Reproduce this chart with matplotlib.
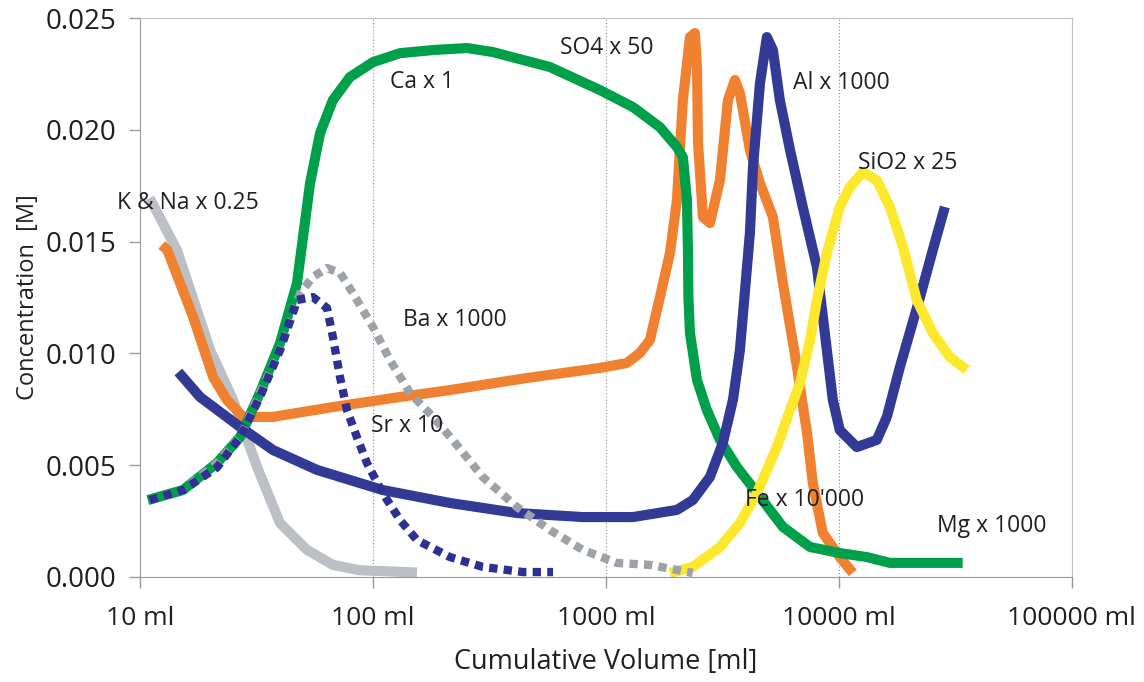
import matplotlib.pyplot as plt
import numpy as np

# volumen acumulado [ml] y concentracion [M]
kna_v = [11.0, 14.4, 20.0, 25.1, 31.8, 39.9, 52.1, 67.3, 87.9, 154.5]
kna_c = [0.01695, 0.01462, 0.01015, 0.00792, 0.00492, 0.00241, 0.00121, 0.00054, 0.0003, 0.0002]

fe_v = [12.4, 13.1, 16.9, 20.6, 23.6, 27.7, 37.2, 67.3, 130.6, 214, 458, 942, 1230, 1399, 1545,
        1706, 1883, 2018, 2080, 2140, 2295, 2410, 2460, 2485, 2609, 2795, 3086, 3340, 3580,
        3760, 4150, 4585, 5210, 5750, 6610, 7300, 7730, 8530, 10090, 11480]
fe_c = [0.01485, 0.01462, 0.01163, 0.00894, 0.00792, 0.00716, 0.00716, 0.0076, 0.00805, 0.00836,
        0.0089, 0.00935, 0.00957, 0.01002, 0.0106, 0.01252, 0.01449, 0.01686, 0.01923, 0.02133,
        0.02415, 0.02433, 0.02281, 0.01941, 0.0161, 0.01583, 0.01775, 0.02133, 0.02223, 0.02164,
        0.0191, 0.01762, 0.0161, 0.01315, 0.00939, 0.00644, 0.0042, 0.00197, 0.00089, 0.00018]

ca_v = [10.8, 15.3, 21.4, 26.9, 32.7, 39.9, 47.2, 53.7, 59.3, 67.3, 79.6, 100, 130.6, 181, 253,
        327, 575, 942, 1306, 1706, 2018, 2140, 2227, 2250, 2260, 2295, 2460, 2712, 3086, 3650,
        4450, 5750, 7520, 10090, 13180, 16550, 21600, 34000]
ca_c = [0.00344, 0.00389, 0.0051, 0.00626, 0.00823, 0.01046, 0.01315, 0.01762, 0.01986, 0.02133,
        0.02236, 0.02303, 0.02343, 0.02357, 0.02366, 0.02348, 0.02281, 0.02178, 0.02102, 0.02012,
        0.01923, 0.01878, 0.01686, 0.01462, 0.01252, 0.01091, 0.00881, 0.00747, 0.00613, 0.00492,
        0.00376, 0.00224, 0.00134, 0.00107, 0.00089, 0.00063, 0.00063, 0.00063]

al_v = [14.6, 18.1, 26.9, 37.2, 57.5, 110, 214, 415, 796, 1306, 2018, 2360, 2795, 3175, 3510,
        3760, 4150, 4280, 4585, 4910, 5210, 5580, 6170, 7000, 8050, 8880, 9420, 10090, 11940,
        14550, 16070, 18280, 22300, 25300, 28500]
al_c = [0.00917, 0.00805, 0.00671, 0.00568, 0.00479, 0.00389, 0.00331, 0.00286, 0.00268, 0.00268,
        0.003, 0.00344, 0.00447, 0.00599, 0.00792, 0.01015, 0.01538, 0.01834, 0.02209, 0.02415,
        0.02357, 0.02133, 0.0191, 0.01655, 0.01386, 0.01015, 0.00792, 0.00657, 0.00581, 0.00613,
        0.00716, 0.00939, 0.01252, 0.01462, 0.01655]

si_v = [1883, 2360, 3086, 3760, 4450, 5420, 6170, 6810, 7520, 8050, 8880, 10090, 11140, 12680,
        14550, 16550, 18840, 21600, 25300, 29900, 35400]
si_c = [0.00018, 0.00045, 0.00134, 0.00241, 0.00376, 0.00581, 0.00747, 0.00868, 0.0106, 0.01239,
        0.01449, 0.01655, 0.01744, 0.01811, 0.01775, 0.01655, 0.01476, 0.01239, 0.01091, 0.00984,
        0.00926]

ba_v = [11.0, 15.3, 21.4, 26.9, 32.7, 39.9, 48.7, 55.2, 63.5, 72.2, 82.0, 100, 118.3, 144.2, 181,
        220, 296, 415, 575, 796, 1114, 1545, 2360]
ba_c = [0.00344, 0.00389, 0.0051, 0.00626, 0.00823, 0.01015, 0.0127, 0.01342, 0.01382, 0.0136,
        0.0127, 0.01118, 0.0097, 0.00823, 0.00716, 0.00613, 0.00447, 0.00313, 0.0021, 0.00121,
        0.00063, 0.00054, 0.00018]

sr_v = [11.0, 15.3, 21.4, 26.9, 32.7, 39.9, 47.2, 55.2, 63.5, 67.3, 72.2, 77.3, 85.3, 94.2, 110,
        130.6, 154.5, 214, 296, 441, 593]
sr_c = [0.00344, 0.00389, 0.0049, 0.00626, 0.00805, 0.01015, 0.01239, 0.01252, 0.01203, 0.01073,
        0.00894, 0.00747, 0.00626, 0.0051, 0.00376, 0.00255, 0.00165, 0.00089, 0.00045, 0.00022,
        0.00022]

# etiquetas (texto, volumen, concentracion)
etiquetas = [('Ca x 1', 118, 0.02213), ('SO4 x 50', 635, 0.02366), ('Al x 1000', 6350, 0.02209),
             ('SiO2 x 25', 12080, 0.01851), ('K & Na x 0.25', 7.96, 0.01673),
             ('Ba x 1000', 134.5, 0.01149), ('Sr x 10', 98, 0.00675),
             ("Fe x 10'000", 3955, 0.00344), ('Mg x 1000', 26360, 0.00228)]

plt.rcParams['font.family'] = ['Open Sans', 'DejaVu Sans']

fig = plt.figure(figsize=(11.44, 6.82), dpi=100)
ax = fig.add_axes([0.1224, 0.154, 0.8145, 0.8195])

lw = 7.3
estilo = dict(solid_capstyle='butt', solid_joinstyle='round')
ax.plot(kna_v, kna_c, color='#BCC0C5', lw=lw, **estilo)
ax.plot(fe_v, fe_c, color='#F08131', lw=lw, **estilo)
ax.plot(ca_v, ca_c, color='#00A04B', lw=lw, **estilo)
ax.plot(al_v, al_c, color='#333A96', lw=lw, **estilo)
ax.plot(si_v, si_c, color='#FCE82C', lw=lw, **estilo)
ax.plot(ba_v, ba_c, color='#9DA2A9', lw=6, linestyle=(0, (1, 0.75)), dash_capstyle='butt')
ax.plot(sr_v, sr_c, color='#2E3192', lw=6, linestyle=(0, (1, 0.75)), dash_capstyle='butt')

for txt, xv, yv in etiquetas:
    ax.text(xv, yv, txt, fontsize=16.5, color='#231F20', ha='left', va='center', clip_on=False)

ax.set_xscale('log')
ax.set_xlim(10, 100000)
ax.set_ylim(0, 0.025)
ax.set_xticks([10, 100, 1000, 10000, 100000])
ax.set_xticklabels(['10 ml', '100 ml', '1000 ml', '10000 ml', '100000 ml'])
ax.xaxis.set_minor_locator(plt.NullLocator())
ax.set_yticks(np.arange(0, 0.0251, 0.005))
ax.set_yticklabels(['%.3f' % v for v in np.arange(0, 0.0251, 0.005)])
ax.tick_params(axis='both', length=8, width=1, color='#999999', labelcolor='#231F20')
ax.tick_params(axis='x', pad=13, labelsize=19)
ax.tick_params(axis='y', pad=9, labelsize=20)

for v in [100, 1000, 10000]:
    ax.axvline(v, color='#888888', lw=0.8, linestyle=(0, (1, 2)), zorder=0)

for s in ['left', 'bottom']:
    ax.spines[s].set_color('#999999')
for s in ['top', 'right']:
    ax.spines[s].set_color('#C0C0C0')

ax.set_xlabel('Cumulative Volume [ml]', fontsize=19.5, color='#231F20', labelpad=12)
ax.set_ylabel('Concentration  [M]', fontsize=17, color='#231F20', labelpad=4)

fig.savefig('out.png', dpi=100)
